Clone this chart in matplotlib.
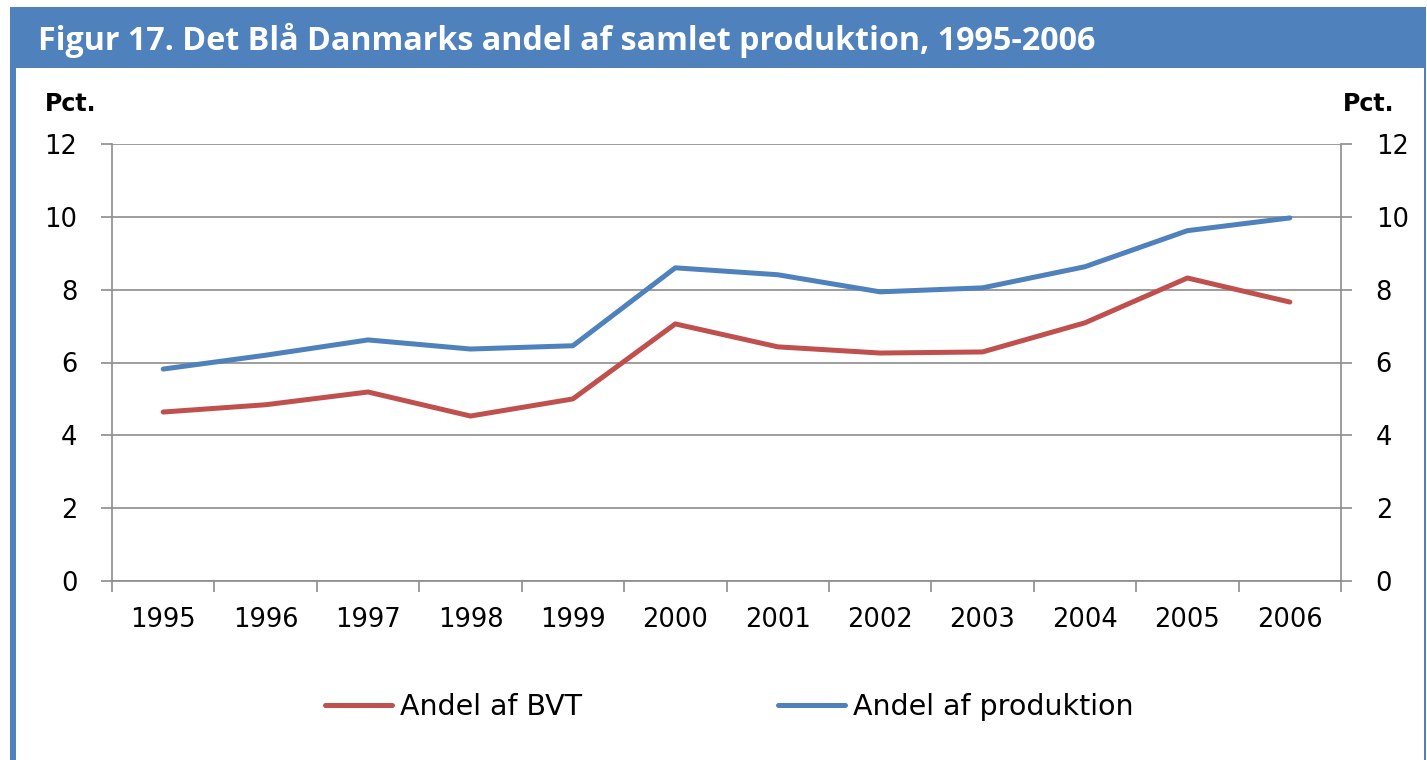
#!/usr/bin/env python3
"Det Blå Danmarks andel af samlet produktion, 1995-2006"

import matplotlib
matplotlib.use("Agg")
import matplotlib.pyplot as plt
from matplotlib import patches
import numpy as np

YEARS = ['1995', '1996', '1997', '1998', '1999', '2000',
         '2001', '2002', '2003', '2004', '2005', '2006']
ANDEL_BVT = [4.64, 4.84, 5.19, 4.53, 5.0, 7.06,
             6.43, 6.26, 6.29, 7.09, 8.32, 7.66]
ANDEL_PRODUKTION = [5.82, 6.2, 6.62, 6.37, 6.46, 8.6,
                    8.41, 7.94, 8.05, 8.63, 9.62, 9.97]
Y_TICKS = [0, 2, 4, 6, 8, 10, 12]

TITLE = "Figur 17. Det Blå Danmarks andel af samlet produktion, 1995-2006"
RED = '#C0504D'
BLUE = '#4F81BD'
GRID = '#8C8C8C'

W, H = 1427, 760


def fx(px):
    return px / W


def fy(py):
    return 1 - py / H


def main():
    "Main function"
    plt.rcParams['font.family'] = ['DejaVu Sans']
    fig = plt.figure(figsize=(W / 100, H / 100), dpi=100)

    # frame: blue title bar and side borders
    fig.patches.append(patches.Rectangle(
        (fx(10), fy(68)), fx(1416), 61 / H, transform=fig.transFigure,
        facecolor=BLUE, edgecolor='none'))
    fig.patches.append(patches.Rectangle(
        (fx(10), 0), fx(6), fy(68), transform=fig.transFigure,
        facecolor=BLUE, edgecolor='none'))
    fig.patches.append(patches.Rectangle(
        (fx(1424), 0), fx(2), fy(68), transform=fig.transFigure,
        facecolor=BLUE, edgecolor='none'))
    fig.text(fx(38), fy(40), TITLE, color='white', fontsize=23.2,
             fontweight='bold', va='center', ha='left',
             family=['Open Sans', 'DejaVu Sans'])

    axes = fig.add_axes([fx(112), fy(581), fx(1341 - 112), (581 - 144) / H])
    xpos = np.arange(len(YEARS))
    axes.plot(xpos, ANDEL_BVT, color=RED, lw=3.6, label='Andel af BVT',
              solid_capstyle='round')
    axes.plot(xpos, ANDEL_PRODUKTION, color=BLUE, lw=3.6,
              label='Andel af produktion', solid_capstyle='round')

    axes.set_xlim(-0.5, len(YEARS) - 0.5)
    axes.set_ylim(0, 12)
    axes.set_yticks(Y_TICKS)
    axes.set_xticks(xpos)
    axes.set_xticklabels(YEARS)
    axes.set_xticks(np.arange(len(YEARS) + 1) - 0.5, minor=True)
    axes.tick_params(axis='x', which='major', length=0, pad=19,
                     labelsize=18.5)
    axes.tick_params(axis='x', which='minor', length=8, width=1.2,
                     color=GRID)
    axes.tick_params(axis='y', length=8, width=1.2, color=GRID, pad=17,
                     labelsize=18.5, right=True, labelright=True)
    axes.grid(axis='y', color=GRID, lw=1.2)
    axes.set_axisbelow(True)
    axes.spines['top'].set_visible(False)
    for side in ('left', 'right', 'bottom'):
        axes.spines[side].set_color(GRID)
        axes.spines[side].set_linewidth(1.2)

    fig.text(fx(45), fy(104), 'Pct.', fontsize=17, fontweight='bold',
             va='center', ha='left')
    fig.text(fx(1343), fy(104), 'Pct.', fontsize=17, fontweight='bold',
             va='center', ha='left')

    fig.legend(loc='center', bbox_to_anchor=(fx(729), fy(707)), ncol=2,
               frameon=False, fontsize=20.5, handlelength=2.35,
               handletextpad=0.28, columnspacing=6.9)

    fig.savefig('out.png', dpi=100, facecolor='white')


if __name__ == "__main__":
    main()
